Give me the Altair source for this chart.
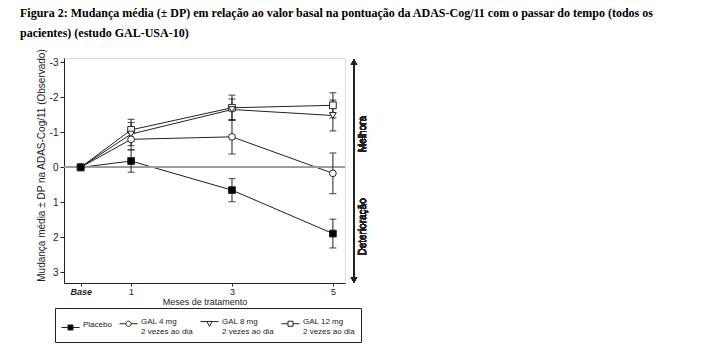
import altair as alt
import pandas as pd

# ---- data ----
months = [0, 1, 3, 5]
series = ["Placebo", "GAL 4 mg", "GAL 8 mg", "GAL 12 mg"]
placebo_mean = [0, -0.18, 0.65, 1.89]
placebo_sd = [0, 0.32, 0.33, 0.41]
gal4_mean = [0, -0.80, -0.87, 0.17]
gal4_sd = [0, 0.30, 0.49, 0.58]
gal8_mean = [0, -0.95, -1.65, -1.48]
gal8_sd = [0, 0.33, 0.30, 0.44]
gal12_mean = [0, -1.07, -1.70, -1.77]
gal12_sd = [0, 0.30, 0.36, 0.36]
y_ticks = [-3, -2, -1, 0, 1, 2, 3]
x_ticks = [0, 1, 3, 5]

title_lines = [
    "Figura 2: Mudança média (± DP) em relação ao valor basal na pontuação da ADAS-Cog/11 com o passar do tempo (todos os",
    "pacientes) (estudo GAL-USA-10)",
]

rows = []
for name, means, sds, order in [
    ("GAL 12 mg", gal12_mean, gal12_sd, 0),
    ("GAL 8 mg", gal8_mean, gal8_sd, 1),
    ("GAL 4 mg", gal4_mean, gal4_sd, 2),
    ("Placebo", placebo_mean, placebo_sd, 3),
]:
    for m, v, s in zip(months, means, sds):
        rows.append({"serie": name, "mes": m, "media": v, "sd": s,
                     "lo": v - s, "hi": v + s, "ordem": order})
df = pd.DataFrame(rows)

FONT = "Liberation Sans"
INK = "#222222"

xscale = alt.Scale(domain=[-0.33, 5.24], nice=False, zero=False)
yscale = alt.Scale(domain=[-3.12, 3.3], reverse=True, nice=False, zero=False)

x_axis = alt.Axis(
    values=x_ticks, grid=False, title="Meses de tratamento",
    labelExpr="datum.value == 0 ? 'Base' : '' + datum.value",
    labelFontWeight=alt.condition("datum.value == 0", alt.value("bold"), alt.value("normal")),
    labelFontStyle=alt.condition("datum.value == 0", alt.value("italic"), alt.value("normal")),
    labelFont=FONT, labelFontSize=9, titleFont=FONT, titleFontSize=9,
    titleFontWeight="normal", titlePadding=1, tickSize=3, domainColor=INK,
    tickColor=INK, labelColor=INK, titleColor=INK, labelPadding=1,
    labelOverlap=False)
y_axis = alt.Axis(
    values=y_ticks, tickCount=7, grid=False,
    title="Mudança média ± DP na ADAS-Cog/11 (Observado)",
    labelExpr="datum.value < 0 ? '-' + abs(datum.value) : '' + datum.value",
    labelFont=FONT, labelFontSize=10, titleFont=FONT, titleFontSize=10,
    titleFontWeight="normal", titlePadding=3, titleY=107, tickSize=4,
    domainColor=INK, tickColor=INK, labelColor=INK, titleColor=INK,
    labelPadding=2, labelOverlap=False)

base = alt.Chart(df)

lines = base.mark_line(color=INK, strokeWidth=1).encode(
    x=alt.X("mes:Q", scale=xscale, axis=x_axis),
    y=alt.Y("media:Q", scale=yscale, axis=y_axis),
    detail="serie:N", order="mes:Q")

zero_line = alt.Chart(df).mark_rule(color="#9a9a9a", strokeWidth=1).encode(
    y=alt.datum(0))

err = base.transform_filter("datum.sd > 0").mark_rule(color=INK, strokeWidth=1).encode(
    x="mes:Q", y="lo:Q", y2="hi:Q")
caps_lo = base.transform_filter("datum.sd > 0").mark_tick(
    orient="horizontal", color=INK, size=7, thickness=1.2).encode(x="mes:Q", y="lo:Q")
caps_hi = base.transform_filter("datum.sd > 0").mark_tick(
    orient="horizontal", color=INK, size=7, thickness=1.2).encode(x="mes:Q", y="hi:Q")

pts = base.mark_point(filled=True, stroke=INK, strokeWidth=1, size=45, opacity=1).encode(
    x="mes:Q", y="media:Q",
    shape=alt.Shape("serie:N", legend=None, scale=alt.Scale(
        domain=series, range=["square", "circle", "triangle-down", "square"])),
    fill=alt.Fill("serie:N", legend=None, scale=alt.Scale(
        domain=series, range=["black", "white", "white", "white"])),
    order="ordem:Q")

seg = "M-1,0L-0.3,0M0.3,0L1,0"
p_square = seg + "M-0.28,-0.28L0.28,-0.28L0.28,0.28L-0.28,0.28Z"
p_circle = seg + "M-0.29,0A0.29,0.29,0,1,0,0.29,0A0.29,0.29,0,1,0,-0.29,0Z"
p_tri = "M-1,-0.24L-0.3,-0.24M0.3,-0.24L1,-0.24M-0.3,-0.26L0.3,-0.26L0,0.28Z"

legend_props = dict(
    orient="none", legendX=-9, legendY=250, direction="horizontal",
    columns=4, strokeColor=INK, padding=6, fillColor="white",
    labelFont=FONT, labelFontSize=8, labelColor=INK,
    labelBaseline="alphabetic", columnPadding=5, symbolSize=324,
    symbolStrokeColor=INK, symbolStrokeWidth=1, labelOffset=3,
    labelLimit=200,
    labelExpr="datum.label == 'Placebo' ? 'Placebo' : [datum.label, '2 vezes ao dia']")

legend_layer = base.transform_filter("datum.mes > 100").mark_point(
    filled=True, strokeWidth=1, size=324, opacity=1).encode(
    x="mes:Q", y="media:Q",
    shape=alt.Shape("serie:N", title=None, scale=alt.Scale(
        domain=series, range=[p_square, p_circle, p_tri, p_square]),
        legend=alt.Legend(**legend_props)),
    fill=alt.Fill("serie:N", title=None, scale=alt.Scale(
        domain=series, range=["black", "white", "white", "white"]),
        legend=alt.Legend(**legend_props)),
    stroke=alt.Stroke("serie:N", title=None, scale=alt.Scale(
        domain=series, range=[INK, INK, INK, INK]),
        legend=alt.Legend(**legend_props)))

arrow = alt.Chart(df).mark_rule(color=INK, strokeWidth=1).encode(
    x=alt.value(290), y=alt.value(3), y2=alt.value(224))
arrow_up = alt.Chart(df).mark_point(shape="triangle-up", filled=True, color=INK,
                                    size=40, opacity=1).encode(
    x=alt.value(290), y=alt.value(4))
arrow_dn = alt.Chart(df).mark_point(shape="triangle-down", filled=True, color=INK,
                                    size=40, opacity=1).encode(
    x=alt.value(290), y=alt.value(222))
txt_up = alt.Chart(df).mark_text(angle=270, font=FONT, fontSize=10, color=INK,
                                 baseline="middle").encode(
    x=alt.value(299), y=alt.datum(-0.95), text=alt.value("Melhora"))
txt_dn = alt.Chart(df).mark_text(angle=270, font=FONT, fontSize=10, color=INK,
                                 baseline="middle").encode(
    x=alt.value(299), y=alt.datum(1.7), text=alt.value("Deterioração"))

chart = alt.layer(
    lines, zero_line, err, caps_lo, caps_hi, pts, legend_layer,
    arrow, arrow_up, arrow_dn, txt_up, txt_dn
).resolve_scale(shape="independent", fill="independent", stroke="independent").properties(
    width=281, height=225,
    autosize=alt.AutoSizeParams(type="none"),
    padding={"left": 64, "top": 58, "right": 364, "bottom": 71},
    title=alt.TitleParams(
        text=title_lines, anchor="start", frame="group", dx=-44,
        font="Liberation Serif", fontSize=12, fontWeight="bold",
        color="black", lineHeight=20, offset=8),
).configure_view(stroke=None).configure(background="white")

chart.save("out.html", embed_options={"renderer": "svg", "actions": False})
